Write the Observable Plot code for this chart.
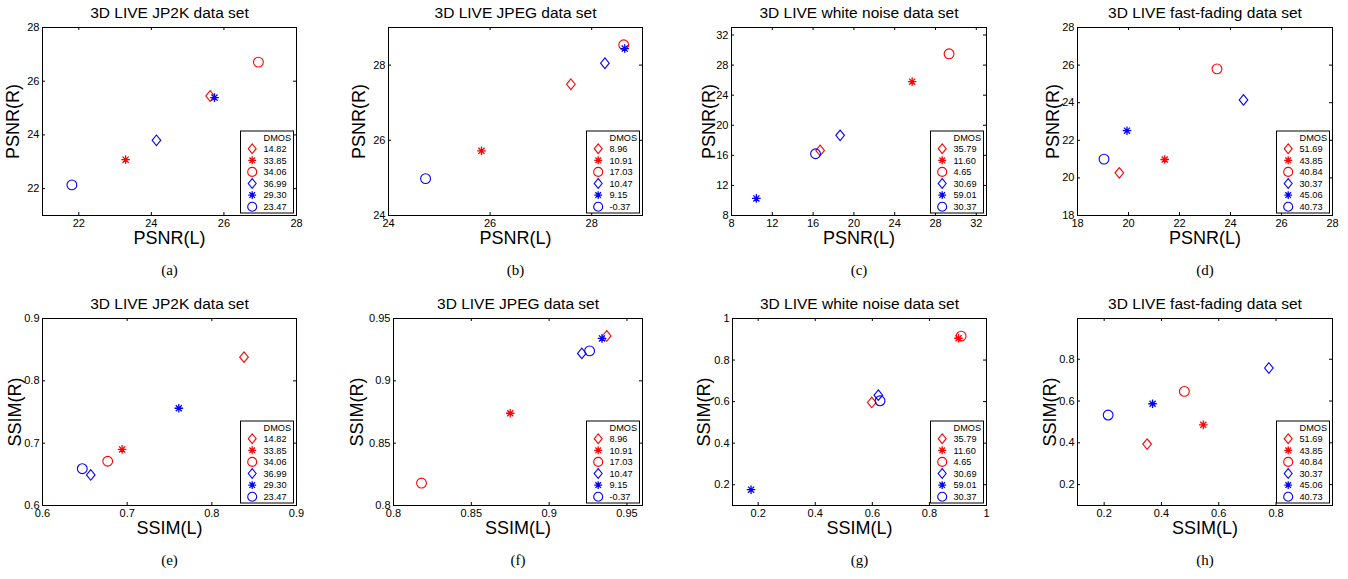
<!DOCTYPE html>
<html><head><meta charset="utf-8">
<script src="https://cdn.jsdelivr.net/npm/d3@7"></script>
<script src="https://cdn.jsdelivr.net/npm/@observablehq/plot@0.6"></script>
<style>
html,body{margin:0;padding:0;background:#fff;}
#chart{position:relative;width:1348px;height:579px;overflow:hidden;background:#fff;}
#chart svg{position:absolute;}
</style></head><body><div id="chart"></div>
<script>
// ---------- DATA ----------
const datasetTitles = ["3D LIVE JP2K data set", "3D LIVE JPEG data set", "3D LIVE white noise data set", "3D LIVE fast-fading data set"];
const captions = ["(a)", "(b)", "(c)", "(d)", "(e)", "(f)", "(g)", "(h)"];
const legendTitle = "DMOS";

// order of points: red diamond, red asterisk, red circle, blue diamond, blue asterisk, blue circle
const dmosJP2K = [14.82, 33.85, 34.06, 36.99, 29.30, 23.47];
const dmosJPEG = [8.96, 10.91, 17.03, 10.47, 9.15, -0.37];
const dmosWN   = [35.79, 11.60, 4.65, 30.69, 59.01, 30.37];
const dmosFF   = [51.69, 43.85, 40.84, 30.37, 45.06, 40.73];

const psnrL_JP2K = [25.62, 23.29, 26.95, 24.14, 25.74, 21.81];
const psnrR_JP2K = [25.45, 23.08, 26.71, 23.80, 25.39, 22.14];
const psnrL_JPEG = [27.59, 25.83, 28.63, 28.26, 28.65, 24.73];
const psnrR_JPEG = [27.49, 25.72, 28.54, 28.05, 28.44, 24.98];
const psnrL_WN   = [16.69, 25.71, 29.33, 18.65, 10.44, 16.24];
const psnrR_WN   = [16.65, 25.80, 29.50, 18.66, 10.27, 16.21];
const psnrL_FF   = [19.64, 21.42, 23.47, 24.51, 19.94, 19.04];
const psnrR_FF   = [20.27, 20.98, 25.80, 24.15, 22.51, 21.00];

const ssimL_JP2K = [0.838, 0.694, 0.677, 0.657, 0.761, 0.647];
const ssimR_JP2K = [0.838, 0.690, 0.671, 0.649, 0.756, 0.659];
const ssimL_JPEG = [0.937, 0.875, 0.818, 0.921, 0.934, 0.926];
const ssimR_JPEG = [0.936, 0.874, 0.818, 0.922, 0.934, 0.924];
const ssimL_WN   = [0.598, 0.902, 0.911, 0.621, 0.175, 0.627];
const ssimR_WN   = [0.596, 0.905, 0.915, 0.631, 0.176, 0.604];
const ssimL_FF   = [0.350, 0.546, 0.480, 0.775, 0.369, 0.214];
const ssimR_FF   = [0.394, 0.486, 0.646, 0.758, 0.587, 0.533];

// axis domains and tick values
const domPsnrJP2K = [21, 28]; const ticksPsnrJP2K = [22, 24, 26, 28];
const domPsnrJPEG = [24, 29]; const ticksPsnrJPEG = [24, 26, 28];
const domPsnrWN   = [8, 33];  const ticksPsnrWN   = [8, 12, 16, 20, 24, 28, 32];
const domPsnrFF   = [18, 28]; const ticksPsnrFF   = [18, 20, 22, 24, 26, 28];
const domSsimJP2K = [0.6, 0.9]; const ticksSsimJP2K = [0.6, 0.7, 0.8, 0.9];
const domSsimJPEGx = [0.8, 0.96]; const domSsimJPEGy = [0.8, 0.95]; const ticksSsimJPEG = [0.8, 0.85, 0.9, 0.95];
const domSsimWNx = [0.11, 1]; const domSsimWNy = [0.1, 1]; const ticksSsimWN = [0.2, 0.4, 0.6, 0.8, 1];
const domSsimFFx = [0.107, 0.997]; const domSsimFFy = [0.1, 0.995]; const ticksSsimFF = [0.2, 0.4, 0.6, 0.8];

const panels = [
  {t: 0, xs: psnrL_JP2K, ys: psnrR_JP2K, dmos: dmosJP2K, xl: "PSNR(L)", yl: "PSNR(R)", xd: domPsnrJP2K, yd: domPsnrJP2K, xt: ticksPsnrJP2K, yt: ticksPsnrJP2K},
  {t: 1, xs: psnrL_JPEG, ys: psnrR_JPEG, dmos: dmosJPEG, xl: "PSNR(L)", yl: "PSNR(R)", xd: domPsnrJPEG, yd: domPsnrJPEG, xt: ticksPsnrJPEG, yt: ticksPsnrJPEG},
  {t: 2, xs: psnrL_WN,   ys: psnrR_WN,   dmos: dmosWN,   xl: "PSNR(L)", yl: "PSNR(R)", xd: domPsnrWN, yd: domPsnrWN, xt: ticksPsnrWN, yt: ticksPsnrWN},
  {t: 3, xs: psnrL_FF,   ys: psnrR_FF,   dmos: dmosFF,   xl: "PSNR(L)", yl: "PSNR(R)", xd: domPsnrFF, yd: domPsnrFF, xt: ticksPsnrFF, yt: ticksPsnrFF},
  {t: 0, xs: ssimL_JP2K, ys: ssimR_JP2K, dmos: dmosJP2K, xl: "SSIM(L)", yl: "SSIM(R)", xd: domSsimJP2K, yd: domSsimJP2K, xt: ticksSsimJP2K, yt: ticksSsimJP2K},
  {t: 1, xs: ssimL_JPEG, ys: ssimR_JPEG, dmos: dmosJPEG, xl: "SSIM(L)", yl: "SSIM(R)", xd: domSsimJPEGx, yd: domSsimJPEGy, xt: ticksSsimJPEG, yt: ticksSsimJPEG},
  {t: 2, xs: ssimL_WN,   ys: ssimR_WN,   dmos: dmosWN,   xl: "SSIM(L)", yl: "SSIM(R)", xd: domSsimWNx, yd: domSsimWNy, xt: ticksSsimWN, yt: ticksSsimWN},
  {t: 3, xs: ssimL_FF,   ys: ssimR_FF,   dmos: dmosFF,   xl: "SSIM(L)", yl: "SSIM(R)", xd: domSsimFFx, yd: domSsimFFy, xt: ticksSsimFF, yt: ticksSsimFF}
];

// ---------- LAYOUT & STYLE ----------
const FONT = "'Liberation Sans', Arial, Helvetica, sans-serif";
const SERIF = "'Liberation Serif', 'Times New Roman', serif";
// axes box: left, top, width, height (px)
const boxes = [
  [42, 27, 254, 188], [388, 27, 254, 188], [731, 27, 255, 188], [1077, 27, 255, 188],
  [42, 318, 254, 187], [393, 318, 249, 187], [732, 318, 254, 187], [1077, 318, 255, 187]
];
const yLabelOffsets = [29, 29.5, 22.5, 24, 27, 36.5, 28.5, 27.5];

const symDiamond = {draw(ctx, size) { const r = Math.sqrt(size / Math.PI); ctx.moveTo(0, -r * 1.08); ctx.lineTo(r * 0.88, 0); ctx.lineTo(0, r * 1.08); ctx.lineTo(-r * 0.88, 0); ctx.closePath(); }};
const symStar = {draw(ctx, size) { const a = Math.sqrt(size / Math.PI) * 0.88, b = a * 0.7071;
  ctx.moveTo(0, -a); ctx.lineTo(0, a); ctx.moveTo(-a, 0); ctx.lineTo(a, 0);
  ctx.moveTo(-b, -b); ctx.lineTo(b, b); ctx.moveTo(-b, b); ctx.lineTo(b, -b); }};
const RED = "#ff0000", BLUE = "#0000ff";
const seriesStyle = [
  {symbol: symDiamond, color: RED}, {symbol: symStar, color: RED}, {symbol: d3.symbolCircle, color: RED},
  {symbol: symDiamond, color: BLUE}, {symbol: symStar, color: BLUE}, {symbol: d3.symbolCircle, color: BLUE}
];
const R = 4.9;
const TICK = 3;
const mL = 50, mR = 10, mT = 32, mB = 68;
const fmt = d => String(d);

const chart = document.getElementById("chart");
panels.forEach((p, i) => {
  const [bx, by, bw, bh] = boxes[i];
  const rows = p.xs.map((x, k) => ({x, y: p.ys[k], k}));
  const dotMarks = seriesStyle.map((s, k) => Plot.dot(rows.filter(d => d.k === k),
    {x: "x", y: "y", symbol: s.symbol, r: R, stroke: s.color, fill: "none", strokeWidth: s.symbol === symStar ? 1.3 : 1.1}));
  const svg = Plot.plot({
    width: bw + mL + mR, height: bh + mT + mB,
    marginLeft: mL, marginRight: mR, marginTop: mT, marginBottom: mB,
    style: {fontFamily: FONT, fontSize: "11px", overflow: "visible", background: "none", color: "black"},
    x: {domain: p.xd}, y: {domain: p.yd},
    marks: [
      // inward ticks on all four sides
      Plot.tickX(p.xt, {x: d => d, insetTop: bh - TICK, stroke: "black"}),
      Plot.tickX(p.xt, {x: d => d, insetBottom: bh - TICK, stroke: "black"}),
      Plot.tickY(p.yt, {y: d => d, insetRight: bw - TICK, stroke: "black"}),
      Plot.tickY(p.yt, {y: d => d, insetLeft: bw - TICK, stroke: "black"}),
      Plot.axisX(p.xt, {anchor: "bottom", tickSize: 0, tickPadding: 4, tickFormat: fmt, label: null}),
      Plot.axisY(p.yt, {anchor: "left", tickSize: 0, tickPadding: 3, tickFormat: fmt, label: null}),
      Plot.frame({stroke: "black", strokeWidth: 1}),
      ...dotMarks,
      Plot.text([datasetTitles[p.t]], {frameAnchor: "top", lineAnchor: "middle", dy: -14, fontSize: 15.5}),
      Plot.text([p.xl], {frameAnchor: "bottom", lineAnchor: "middle", dy: 23, fontSize: 18}),
      Plot.text([p.yl], {frameAnchor: "left", textAnchor: "middle", lineAnchor: "middle", dx: -yLabelOffsets[i], rotate: -90, fontSize: 18}),
      Plot.text([captions[i]], {frameAnchor: "bottom", lineAnchor: "middle", dy: 55, fontSize: 15, fontFamily: SERIF})
    ]
  });
  svg.style.left = (bx - mL) + "px";
  svg.style.top = (by - mT) + "px";

  // legend box (bottom-right inside the axes)
  const LW = 53, LH = 82;
  const g = d3.select(svg).append("g")
    .attr("transform", `translate(${mL + bw - 2.5 - LW},${mT + bh - 2 - LH})`)
    .attr("font-family", FONT).attr("font-size", 9.2).attr("text-anchor", "start");
  g.append("rect").attr("width", LW).attr("height", LH).attr("fill", "white").attr("stroke", "black");
  g.append("text").attr("x", 23).attr("y", 6.5).attr("dy", "0.35em").text(legendTitle);
  p.dmos.forEach((v, k) => {
    const yy = 17.7 + k * 11.6;
    g.append("path").attr("transform", `translate(11.7,${yy})`)
      .attr("d", d3.symbol(seriesStyle[k].symbol, 4.5 * 4.5 * Math.PI)())
      .attr("fill", "none").attr("stroke", seriesStyle[k].color)
      .attr("stroke-width", seriesStyle[k].symbol === symStar ? 1.3 : 1.1);
    g.append("text").attr("x", 23).attr("y", yy).attr("dy", "0.35em").text(v.toFixed(2));
  });
  chart.appendChild(svg);
});
</script></body></html>
